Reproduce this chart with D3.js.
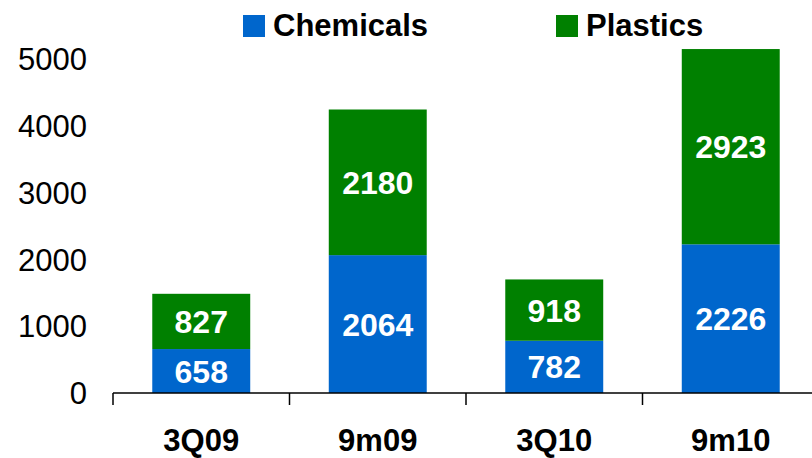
<!DOCTYPE html>
<head>
    <meta charset="utf-8">
    <title>Chemicals and Plastics</title>
    <script src="https://d3js.org/d3.v7.min.js"></script>
    <style>
        body { margin: 0; background: #fff; }
        text { font-family: "Liberation Sans", Arial, sans-serif; }
    </style>
</head>
<body>
    <script>
        const categories = ["3Q09", "9m09", "3Q10", "9m10"]
        const chemicals = [658, 2064, 782, 2226]
        const plastics = [827, 2180, 918, 2923]
        const yTicks = [0, 1000, 2000, 3000, 4000, 5000]
        const seriesNames = ["Chemicals", "Plastics"]
        const colors = ["#0066cc", "#008000"]

        const width = 812
        const height = 458

        const svg = d3.select("body").append("svg")
            .attr("width", width)
            .attr("height", height)

        const x = d3.scaleBand()
            .domain(categories)
            .range([113, 819])
            .paddingInner(0.445)
            .paddingOuter(0.2225)

        const y = d3.scaleLinear()
            .domain([0, 5000])
            .range([393, 59])

        const rows = categories.map((c, i) => ({cat: c, Chemicals: chemicals[i], Plastics: plastics[i]}))
        const stacked = d3.stack().keys(seriesNames)(rows)

        // bars
        stacked.forEach((layer, li) => {
            const g = svg.append("g")
            g.selectAll("rect")
                .data(layer)
                .join("rect")
                    .attr("x", d => x(d.data.cat))
                    .attr("width", x.bandwidth())
                    .attr("y", d => y(d[1]))
                    .attr("height", d => y(d[0]) - y(d[1]))
                    .attr("fill", colors[li])

            g.selectAll("text")
                .data(layer)
                .join("text")
                    .attr("x", d => x(d.data.cat) + x.bandwidth() / 2)
                    .attr("y", d => (y(d[0]) + y(d[1])) / 2)
                    .attr("dy", "0.36em")
                    .attr("text-anchor", "middle")
                    .attr("fill", "#fff")
                    .attr("font-weight", "bold")
                    .attr("font-size", 32)
                    .text(d => d[1] - d[0])
        })

        // y labels (no axis line)
        svg.append("g").selectAll("text")
            .data(yTicks)
            .join("text")
                .attr("x", 87)
                .attr("y", d => y(d))
                .attr("dy", "0.36em")
                .attr("text-anchor", "end")
                .attr("font-size", 31)
                .attr("fill", "#000")
                .text(d => d)

        // x baseline and ticks between categories
        const step = x.step()
        const off = step * x.paddingOuter()
        svg.append("line")
            .attr("x1", x(categories[0]) - off).attr("x2", width)
            .attr("y1", y(0)).attr("y2", y(0))
            .attr("stroke", "#000").attr("stroke-width", 1.5)

        svg.append("g").selectAll("line")
            .data(categories)
            .join("line")
                .attr("x1", d => x(d) - off)
                .attr("x2", d => x(d) - off)
                .attr("y1", y(0))
                .attr("y2", y(0) + 12)
                .attr("stroke", "#000").attr("stroke-width", 1.5)

        svg.append("g").selectAll("text")
            .data(categories)
            .join("text")
                .attr("x", d => x(d) + x.bandwidth() / 2)
                .attr("y", 451)
                .attr("text-anchor", "middle")
                .attr("font-weight", "bold")
                .attr("font-size", 31)
                .text(d => d)

        // legend
        const legendX = [243, 556]
        const legend = svg.append("g").selectAll("g")
            .data(seriesNames)
            .join("g")
                .attr("transform", (d, i) => `translate(${legendX[i]}, 15)`)
        legend.append("rect")
            .attr("width", 22).attr("height", 22)
            .attr("fill", (d, i) => colors[i])
        legend.append("text")
            .attr("x", 30)
            .attr("y", 21)
            .attr("font-weight", "bold")
            .attr("font-size", 31)
            .text(d => d)
    </script>
</body>
